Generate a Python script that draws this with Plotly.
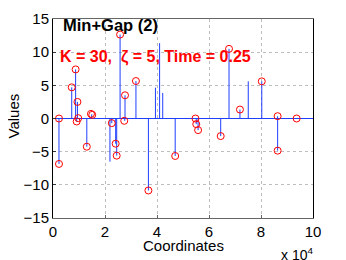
import plotly.graph_objects as go

# Original spikes (blue stems)
orig_x = [2300, 7200, 8700, 9100, 9400, 13000, 14900, 21900, 22600, 24100, 24500,
          25800, 27600, 27700, 31900, 36700, 39400, 41000, 42200, 47000, 55100,
          55800, 64500, 67700, 71900, 75100, 80300, 86400, 86400]
orig_y = [-6.85, 4.7, 7.4, -0.45, 2.5, -4.25, 0.65, -6.5, -0.7, -3.8, -5.6,
          12.65, -0.35, 3.5, 5.65, -10.85, 4.65, 11.35, 3.85, -5.65, -0.85,
          -1.75, -2.65, 10.5, 1.35, 5.6, 5.6, 0.35, -4.85]

# Recovered values (red circles)
rec_x = [2300, 2300, 7200, 8700, 9100, 9400, 9700, 13000, 14600, 15100, 22600,
         24100, 24500, 25800, 27400, 27700, 31900, 36700, 47000, 54800, 55100,
         55800, 64500, 67700, 71900, 80300, 86400, 86400, 93700]
rec_y = [0.0, -6.85, 4.7, 7.4, -0.45, 2.5, 0.05, -4.25, 0.7, 0.55, -0.7,
         -3.8, -5.6, 12.65, -0.35, 3.5, 5.65, -10.85, -5.65, 0.0, -0.85,
         -1.75, -2.65, 10.5, 1.35, 5.6, 0.35, -4.85, 0.0]

x_ticks = [0, 20000, 40000, 60000, 80000, 100000]
x_ticklabels = ["0", "2", "4", "6", "8", "10"]
y_ticks = [-15, -10, -5, 0, 5, 10, 15]

BLUE = "#1f3fff"

sx, sy = [], []
for x, y in zip(orig_x, orig_y):
    sx += [x, x, None]
    sy += [0, y, None]

fig = go.Figure()
fig.add_trace(go.Scatter(x=[x_ticks[0] - 2000, x_ticks[-1]], y=[0, 0], mode="lines",
                         line=dict(color=BLUE, width=1), showlegend=False, cliponaxis=False))
fig.add_trace(go.Scatter(x=sx, y=sy, mode="lines", line=dict(color=BLUE, width=1),
                         showlegend=False))
fig.add_trace(go.Scatter(x=rec_x, y=rec_y, mode="markers",
                         marker=dict(symbol="circle-open", size=7, color="#ff0000",
                                     line=dict(width=1, color="#ff0000")),
                         showlegend=False))

FONT = "Liberation Sans, Arial, sans-serif"

# page body has an 8px default margin, so margins are shifted accordingly
fig.update_layout(
    width=346, height=260,
    margin=dict(l=45, r=41, t=11, b=50, autoexpand=False),
    paper_bgcolor="white", plot_bgcolor="white",
    font=dict(family=FONT, size=15, color="black"),
    xaxis=dict(range=[0, 100000], tickvals=x_ticks, ticktext=x_ticklabels,
               automargin=False,
               showgrid=True, gridcolor="#bdbdbd", griddash="dot", gridwidth=1,
               zeroline=False, showline=True, linecolor="#666666", linewidth=1,
               mirror=True, ticks="inside", ticklen=3, tickcolor="#666666",
               tickfont=dict(size=15, family=FONT)),
    yaxis=dict(range=[-15, 15], tickvals=y_ticks, automargin=False,
               showgrid=True, gridcolor="#bdbdbd", griddash="dot", gridwidth=1,
               zeroline=False, showline=True, linecolor="black", linewidth=1,
               mirror=True, ticks="inside", ticklen=3, tickcolor="#333333",
               tickfont=dict(size=15, family=FONT)),
    annotations=[
        dict(text="<b>Min+Gap (2)</b>", xref="paper", yref="paper", x=0.032, y=0.97,
             xanchor="left", yanchor="middle", showarrow=False,
             font=dict(size=16.5, color="black", family=FONT)),
        dict(text="<b>K = 30,  ζ = 5, Time = 0.25</b>", xref="paper", yref="paper",
             x=0.02, y=0.81, xanchor="left", yanchor="middle", showarrow=False,
             font=dict(size=16, color="#ff0000", family=FONT)),
        dict(text="Coordinates", xref="paper", yref="paper", x=0.5, y=-0.14,
             xanchor="center", yanchor="middle", showarrow=False,
             font=dict(size=15, color="black", family=FONT)),
        dict(text="Values", xref="paper", yref="paper", x=-0.15, y=0.51,
             xanchor="center", yanchor="middle", showarrow=False, textangle=-90,
             font=dict(size=15, color="black", family=FONT)),
        dict(text="x 10<sup>4</sup>", xref="paper", yref="paper", x=1.008, y=-0.18,
             xanchor="right", yanchor="middle", showarrow=False,
             font=dict(size=14, color="black", family=FONT)),
    ],
)

fig.write_html("out.html")
